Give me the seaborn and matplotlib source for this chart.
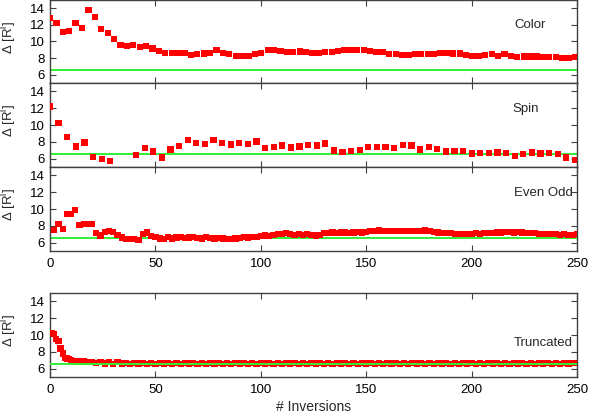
"""
Delta R^l versus number of inversions
- four stacked panels: Color, Spin, Even Odd, Truncated
"""

import numpy as np
import pandas as pd
import matplotlib
matplotlib.use("Agg")
import matplotlib.pyplot as plt
import seaborn as sns

# reference level (green line)
ref_level = 6.6

# Color panel
color_x = np.linspace(0, 249, 83)
color_y = [12.8, 12.2, 11.1, 11.25, 12.25, 11.65, 13.75, 12.95, 11.55, 11.05,
           10.3, 9.6, 9.45, 9.55, 9.35, 9.45, 9.15, 8.9, 8.6, 8.6,
           8.65, 8.6, 8.35, 8.5, 8.55, 8.65, 8.95, 8.65, 8.5, 8.3,
           8.3, 8.3, 8.5, 8.65, 9.0, 9.0, 8.9, 8.7, 8.7, 8.8,
           8.7, 8.6, 8.65, 8.7, 8.7, 8.9, 9.0, 8.95, 9.0, 8.95,
           8.9, 8.7, 8.7, 8.5, 8.5, 8.4, 8.4, 8.5, 8.5, 8.45,
           8.45, 8.65, 8.6, 8.55, 8.55, 8.4, 8.3, 8.3, 8.35, 8.5,
           8.3, 8.5, 8.3, 8.1, 8.2, 8.2, 8.2, 8.1, 8.1, 8.1,
           8.05, 8.05, 8.1]

# Spin panel (two points fall below the plotted range)
spin_x = np.linspace(0, 249, 62)
spin_y = [12.2, 10.2, 8.56, 7.44, 7.92, 6.16, 5.92, 5.72, np.nan, np.nan,
          6.44, 7.28, 6.84, 6.12, 7.08, 7.52, 8.24, 7.84, 7.72, 8.24,
          7.88, 7.68, 7.84, 7.72, 8.04, 7.28, 7.36, 7.56, 7.32, 7.44,
          7.64, 7.56, 7.8, 6.96, 6.76, 6.88, 7.0, 7.36, 7.4, 7.4,
          7.24, 7.6, 7.56, 7.08, 7.4, 7.16, 6.84, 6.88, 6.88, 6.6,
          6.68, 6.64, 6.72, 6.64, 6.28, 6.52, 6.72, 6.6, 6.64, 6.52,
          6.12, 5.88]

# Even Odd panel
evenodd_x = np.arange(2, 251, 2)
evenodd_y = [7.5, 8.25, 7.6, 9.45, 9.45, 9.9, 8.05, 8.2, 8.2, 8.2,
             7.1, 6.85, 7.3, 7.4, 7.3, 6.9, 6.6, 6.4, 6.45, 6.4,
             6.3, 7.05, 7.2, 6.8, 6.7, 6.5, 6.45, 6.65, 6.5, 6.6,
             6.65, 6.55, 6.6, 6.65, 6.55, 6.5, 6.65, 6.55, 6.5, 6.55,
             6.5, 6.4, 6.4, 6.5, 6.55, 6.65, 6.6, 6.65, 6.7, 6.8,
             6.85, 6.8, 6.9, 7.0, 7.05, 7.1, 7.05, 6.95, 7.05, 6.95,
             7.0, 6.95, 6.85, 6.9, 7.1,
             7.15, 7.2, 7.15, 7.2, 7.2, 7.15, 7.2, 7.25, 7.2, 7.3,
             7.4, 7.35, 7.45, 7.4, 7.4, 7.35, 7.4, 7.4, 7.35, 7.4,
             7.35, 7.4, 7.4, 7.45, 7.4, 7.3, 7.2, 7.15, 7.1, 7.1,
             7.05, 7.0, 7.05, 7.0, 7.05, 7.1, 7.05, 7.1, 7.1, 7.15,
             7.2, 7.2, 7.25, 7.25, 7.2, 7.25, 7.2, 7.15, 7.1, 7.1,
             7.05, 7.05, 7.0, 7.0, 7.0, 6.95, 7.0, 6.95, 6.9, 7.0]

# Truncated panel
truncated_x = np.r_[0:21, 22:251:2]
truncated_y = [10.2, 10.2, 10.1, 9.5, 9.3, 8.4, 7.8, 7.3, 7.2, 7.1,
               7.0, 6.95, 6.9, 6.85, 6.9, 6.8, 6.85, 6.75, 6.8, 6.75,
               6.8,
               6.7, 6.8, 6.6, 6.75, 6.55, 6.75, 6.6, 6.7, 6.55, 6.7,
               6.6, 6.7, 6.55, 6.7, 6.55, 6.7, 6.6, 6.7, 6.55, 6.7,
               6.55, 6.7, 6.6, 6.7, 6.55, 6.7, 6.55, 6.7, 6.6, 6.7,
               6.55, 6.7, 6.55, 6.7, 6.6, 6.7, 6.55, 6.7, 6.55, 6.7,
               6.6, 6.7, 6.55, 6.7, 6.55, 6.7, 6.6, 6.7, 6.55, 6.7,
               6.55, 6.7, 6.6, 6.7, 6.55, 6.7, 6.55, 6.7, 6.6, 6.7,
               6.55, 6.7, 6.55, 6.7, 6.6, 6.7, 6.55, 6.7, 6.55, 6.7,
               6.6, 6.7, 6.55, 6.7, 6.55, 6.7, 6.6, 6.7, 6.55, 6.7,
               6.55, 6.7, 6.6, 6.7, 6.55, 6.7, 6.55, 6.7, 6.6, 6.7,
               6.55, 6.7, 6.55, 6.7, 6.6, 6.7, 6.55, 6.7, 6.55, 6.7,
               6.6, 6.7, 6.55, 6.7, 6.55, 6.7, 6.6, 6.7, 6.55, 6.7,
               6.55, 6.7, 6.6, 6.7, 6.65]

panel_names = ["Color", "Spin", "Even Odd", "Truncated"]
x_ticks = [0, 50, 100, 150, 200, 250]
y_ticks = [6, 8, 10, 12, 14]

sns.set_theme(style="ticks")
plt.rcParams['font.family'] = ['Liberation Sans', 'DejaVu Sans']
plt.rcParams['mathtext.default'] = 'regular'
plt.rcParams['xtick.direction'] = 'in'
plt.rcParams['ytick.direction'] = 'in'

fig = plt.figure(figsize=(5.98, 4.19), dpi=100)

left, width = 50 / 598, 527 / 598
# (top px, bottom px) of each panel
panel_px = [(0, 83), (83, 167), (167, 251), (293, 377)]

series = [(color_x, color_y), (spin_x, spin_y),
          (evenodd_x, evenodd_y), (truncated_x, truncated_y)]
label_pos = [(235, 12.0), (232, 11.9), (248, 11.9), (248, 9.0)]

for i, ((top, bot), (xs, ys), name) in enumerate(zip(panel_px, series, panel_names)):
    ax = fig.add_axes([left, (419 - bot) / 419, width, (bot - top) / 419])
    df = pd.DataFrame({'x': xs, 'y': ys})
    green_on_top = name == "Truncated"
    ax.axhline(ref_level, color='#33ee33', lw=1.4, zorder=4 if green_on_top else 1)
    sns.scatterplot(data=df, x='x', y='y', marker='s', s=20, color='#ff0000',
                    edgecolor='none', linewidth=0, ax=ax, zorder=3)

    ax.set_xlim(0, 250)
    ax.set_ylim(5, 15)
    ax.set_xticks(x_ticks)
    ax.set_yticks(y_ticks)
    ax.tick_params(top=True, right=True, length=4, width=0.8, labelsize=9.5,
                   colors='#404040', labelcolor='black')
    ax.tick_params(axis='x', pad=5)
    for sp in ax.spines.values():
        sp.set_color('#404040')
        sp.set_linewidth(1.0)

    ax.set_ylabel('Δ [R$^l$]', fontsize=9.5)
    ax.yaxis.set_label_coords(-0.058, 0.55)
    if i < 2:
        ax.set_xticklabels([])
        ax.set_xlabel('')
    elif i == 2:
        ax.set_xlabel('')
    else:
        ax.set_xlabel('# Inversions', fontsize=10, labelpad=3)

    tx, ty = label_pos[i]
    ax.text(tx, ty, name, ha='right', va='center', fontsize=9.5)

plt.savefig('out.png', dpi=100)
